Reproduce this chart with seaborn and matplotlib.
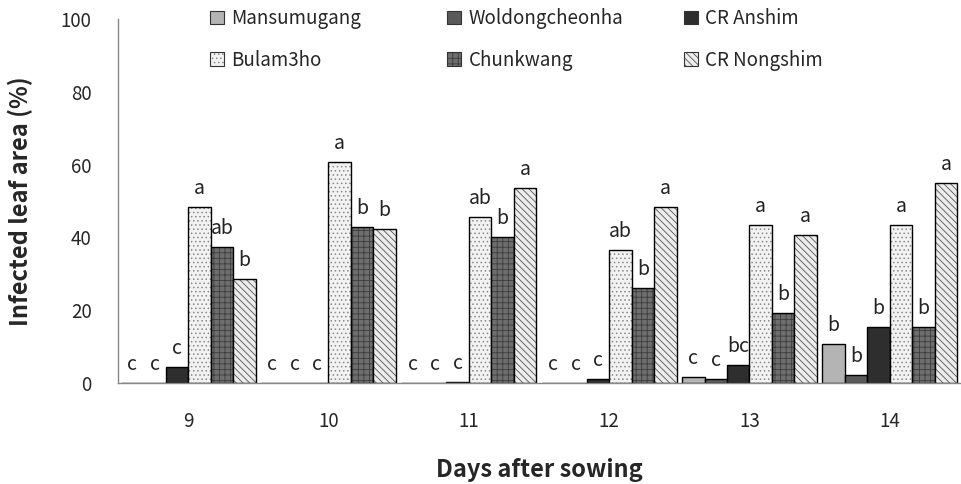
import numpy as np
import pandas as pd
import matplotlib
matplotlib.use("Agg")
import matplotlib.pyplot as plt
import matplotlib.colors as mcolors
import seaborn as sns
from matplotlib.patches import Patch

days = ["9", "10", "11", "12", "13", "14"]
cultivars = ["Mansumugang", "Woldongcheonha", "CR Anshim", "Bulam3ho", "Chunkwang", "CR Nongshim"]

mansumugang = [0, 0, 0, 0, 1.7, 10.6]
woldongcheonha = [0, 0, 0, 0, 1.0, 2.1]
cr_anshim = [4.5, 0, 0.3, 1.0, 4.9, 15.5]
bulam3ho = [48.4, 60.6, 45.7, 36.5, 43.4, 43.4]
chunkwang = [37.3, 42.9, 40.2, 26.0, 19.3, 15.3]
cr_nongshim = [28.6, 42.2, 53.5, 48.4, 40.7, 55.0]

letters = {
    "Mansumugang": ["c", "c", "c", "c", "c", "b"],
    "Woldongcheonha": ["c", "c", "c", "c", "c", "b"],
    "CR Anshim": ["c", "c", "c", "c", "bc", "b"],
    "Bulam3ho": ["a", "a", "ab", "ab", "a", "a"],
    "Chunkwang": ["ab", "b", "b", "b", "b", "b"],
    "CR Nongshim": ["b", "b", "a", "a", "a", "a"],
}

values = [mansumugang, woldongcheonha, cr_anshim, bulam3ho, chunkwang, cr_nongshim]
rows = []
for name, vals in zip(cultivars, values):
    for d, v in zip(days, vals):
        rows.append({"day": d, "cultivar": name, "value": v})
df = pd.DataFrame(rows)

faces = ["#b4b4b4", "#5a5a5a", "#2e2e2e", "#f2f2f2", "#6e6e6e", "#ececec"]
hatches = [None, None, None, "....", "+++", "\\\\\\\\\\"]
hatch_cols = [None, None, None, "#8a8a8a", "#3c3c3c", "#555555"]

sns.set_style("white")
plt.rcParams["font.family"] = ["Noto Sans CJK KR", "DejaVu Sans"]
plt.rcParams["hatch.linewidth"] = 0.6

fig = plt.figure(figsize=(9.62, 4.84), dpi=100)
ax = fig.add_axes([118 / 962, 1 - 383 / 484, (960 - 118) / 962, (383 - 19) / 484])

sns.barplot(data=df, x="day", y="value", hue="cultivar", hue_order=cultivars,
            order=days, palette=faces, width=0.96, gap=0, ax=ax,
            edgecolor="black", linewidth=1, errorbar=None, legend=False)

for i, cont in enumerate(ax.containers):
    name = cultivars[i]
    for j, bar in enumerate(cont.patches):
        if hatches[i]:
            bar.set_hatch(hatches[i])
            bar._hatch_color = mcolors.to_rgba(hatch_cols[i])
        h = bar.get_height()
        ax.text(bar.get_x() + bar.get_width() / 2, h + 2.2, letters[name][j],
                ha="center", va="bottom", fontsize=14, color="#222222")

ax.set_ylim(0, 100)
ax.set_xlim(-0.5, 5.5)
ax.set_yticks([0, 20, 40, 60, 80, 100])
ax.set_xticks(range(6))
ax.set_xticklabels(days)
ax.set_xticks(np.arange(-0.5, 6, 1), minor=True)
ax.tick_params(axis="x", which="major", length=0, pad=20, labelsize=13.5)
ax.tick_params(axis="x", which="minor", length=7, color="#888888", direction="out")
ax.tick_params(axis="y", length=6, color="#888888", direction="out", labelsize=13.5, pad=13)
for s in ["top", "right"]:
    ax.spines[s].set_visible(False)
for s in ["left", "bottom"]:
    ax.spines[s].set_color("#888888")
    ax.spines[s].set_linewidth(1)

ax.set_xlabel("Days after sowing", fontsize=17, fontweight="bold", labelpad=19)
ax.set_ylabel("Infected leaf area (%)", fontsize=17, fontweight="bold", labelpad=20)

# legend: three columns evenly spaced, two rows each
col_x = [0.109, 0.391, 0.672]
legs = []
for c in range(3):
    ks = [c, c + 3]
    hs = []
    for k in ks:
        p = Patch(facecolor=faces[k], edgecolor="#333333", hatch=hatches[k], linewidth=0.8)
        if hatches[k]:
            p._hatch_color = mcolors.to_rgba(hatch_cols[k])
        hs.append(p)
    leg = ax.legend(hs, [cultivars[k] for k in ks], loc="upper left",
                    bbox_to_anchor=(col_x[c], 1.03), frameon=False, fontsize=13.5,
                    handlelength=0.75, handleheight=0.75, handletextpad=0.4,
                    labelspacing=1.1, borderpad=0, borderaxespad=0)
    legs.append(leg)
for leg in legs[:-1]:
    ax.add_artist(leg)

fig.savefig("out.png", dpi=100)
